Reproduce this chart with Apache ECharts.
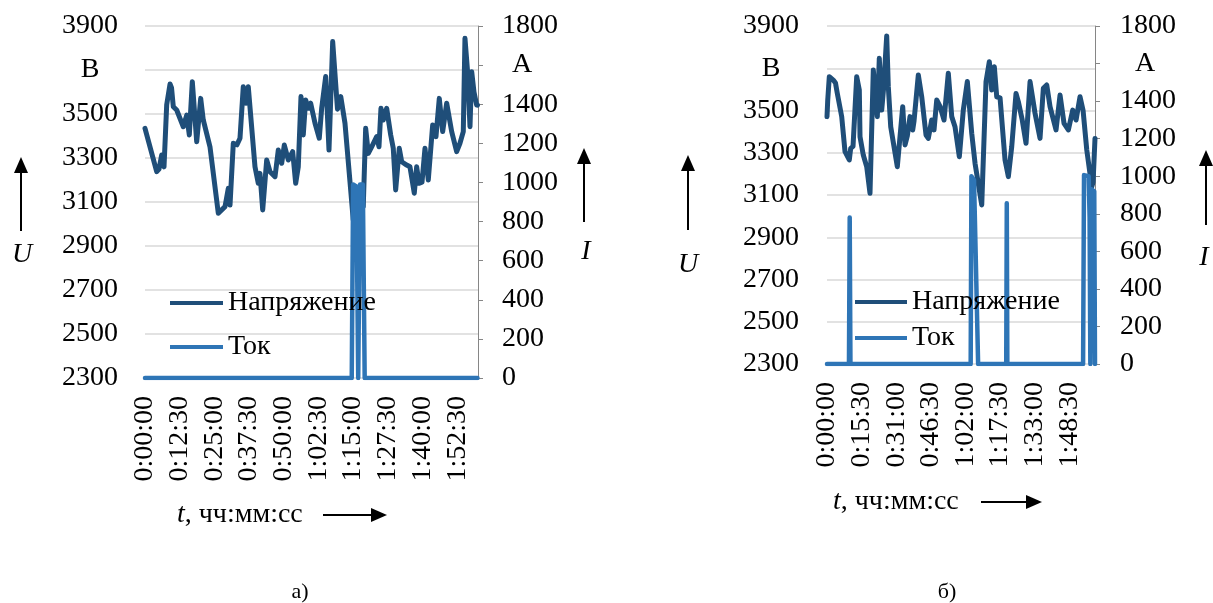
<!DOCTYPE html>
<html>
<head>
<meta charset="utf-8">
<script src="https://cdn.jsdelivr.net/npm/echarts@6/dist/echarts.min.js"></script>
<style>
html,body{margin:0;padding:0;background:#fff;}
#c{width:1213px;height:603px;}
</style>
</head>
<body>
<div id="c"></div>
<script>
// ---------- DATA (time in seconds from start) ----------
// Chart а)
const uT1 = [0,43,253,303,361,389,411,469,541,573,612,685,828,902,958,1023,1118,1204,1260,1405,1585,1730,1801,1838,1909,1989,2054,2125,2184,2233,2378,2449,2486,2545,2631,2703,2811,2882,2955,3012,3098,3193,3258,3314,3373,3422,3474,3531,3582,3676,3768,3820,3907,3978,4058,4162,4233,4324,4503,4719,4771,4828,4901,5009,5059,5102,5152,5226,5312,5368,5420,5498,5550,5658,5729,5822,5874,5924,5989,6054,6125,6220,6291,6363,6436,6523,6631,6739,6810,6882,6918,6972,7027,7064,7113,7171,7189];
const uV1 = [3435,3440,3238,3250,3314,3270,3260,3541,3636,3620,3533,3518,3442,3495,3405,3647,3374,3571,3473,3351,3049,3079,3162,3086,3367,3360,3390,3624,3549,3624,3260,3185,3230,3064,3291,3238,3215,3336,3276,3359,3291,3329,3185,3260,3579,3405,3564,3526,3549,3458,3390,3526,3670,3336,3829,3522,3579,3458,3018,3079,3435,3321,3351,3397,3351,3526,3473,3526,3405,3344,3155,3344,3283,3268,3260,3140,3260,3185,3190,3344,3200,3450,3397,3571,3420,3549,3420,3329,3367,3420,3844,3700,3442,3692,3600,3541,3540];
const iT1 = [0,4470,4500,4570,4610,4650,4710,4750,7189];
const iV1 = [0,0,990,980,0,990,990,0,0];
// Chart б)
const uT2 = [0,20,62,169,228,277,395,484,599,637,699,798,868,887,975,1067,1155,1244,1352,1405,1470,1518,1604,1647,1712,1889,2034,2096,2158,2230,2303,2338,2453,2545,2660,2722,2813,2875,2948,3036,3144,3259,3351,3439,3555,3662,3770,3888,3977,4157,4272,4361,4425,4495,4560,4649,4783,4872,4963,5078,5140,5240,5347,5455,5589,5723,5812,5903,5992,6153,6261,6368,6484,6602,6691,6798,6880,6979,7113,7148,7200];
const uV2 = [3471,3550,3660,3644,3630,3581,3471,3305,3266,3321,3330,3660,3597,3376,3289,3234,3108,3692,3471,3747,3502,3600,3853,3613,3423,3234,3518,3337,3380,3471,3408,3450,3668,3565,3384,3368,3455,3408,3550,3520,3455,3676,3471,3423,3281,3502,3637,3392,3250,3053,3637,3731,3597,3707,3565,3560,3266,3187,3329,3581,3542,3460,3345,3637,3487,3368,3605,3621,3518,3408,3573,3439,3408,3502,3455,3565,3500,3313,3139,3160,3368];
const iT2 = [0,590,610,630,3860,3880,3950,4060,4815,4830,4845,6880,6905,7030,7055,7075,7110,7180,7200];
const iV2 = [0,0,780,0,0,1000,980,0,0,856,0,0,1006,1000,780,0,930,920,0];
// axis settings
const uTicks = {min:2300, max:3900, step:200};
const iTicks = {min:0, max:1800, step:200};
const tStep1 = 750, tStep2 = 930, tMax = 7200;
const names = ['Напряжение','Ток'];

// ---------- helpers ----------
const FONT = '"Liberation Serif","Times New Roman",serif';
const C_U = '#1F4E79', C_I = '#2E75B6', C_GRID = '#D9D9D9', C_AX = '#868686';
function pairs(t, v){ return t.map((x,i)=>[x, v[i]]); }
function hms(s){ const h=Math.floor(s/3600), m=Math.floor(s%3600/60), x=s%60;
  return h+':'+String(m).padStart(2,'0')+':'+String(x).padStart(2,'0'); }

function xAx(g, step){
  return {type:'value', gridIndex:g, min:0, max:tMax, interval:step,
    axisLine:{show:false}, axisTick:{show:false}, splitLine:{show:false},
    axisLabel:{rotate:90, margin:18, fontSize:28, fontFamily:FONT, color:'#000',
      showMaxLabel:false, formatter:v=> (v % step === 0 && v < tMax) ? hms(v) : ''}};
}
function yU(g, margin, w){
  return {type:'value', gridIndex:g, position:'left', min:uTicks.min, max:uTicks.max, interval:uTicks.step,
    axisLine:{show:false}, axisTick:{show:false},
    splitLine:{show:true, lineStyle:{color:C_GRID, width:1.5}},
    axisLabel:{margin:margin, fontSize:28, fontFamily:FONT, color:'#000',
      formatter:v=> v===3700 ? '{u|В}' : String(v),
      rich:{u:{width:w, align:'center', fontSize:28, fontFamily:FONT, color:'#000'}}}};
}
function yI(g, margin, w){
  return {type:'value', gridIndex:g, position:'right', min:iTicks.min, max:iTicks.max, interval:iTicks.step,
    axisLine:{show:true, lineStyle:{color:C_AX, width:1}},
    axisTick:{show:true, length:5, lineStyle:{color:C_AX}},
    splitLine:{show:false},
    axisLabel:{margin:margin, fontSize:28, fontFamily:FONT, color:'#000',
      formatter:v=> v===1600 ? '{a|А}' : String(v),
      rich:{a:{width:w, align:'center', fontSize:28, fontFamily:FONT, color:'#000'}}}};
}
function line(name, x, y, data, color, w, z){
  return {name:name, type:'line', xAxisIndex:x, yAxisIndex:y, data:data,
    showSymbol:false, symbol:'none', color:color, itemStyle:{color:color},
    lineStyle:{color:color, width:w, join:'round', cap:'round'}, z:z, animation:false};
}
function arrowV(x, yTop, yBot){
  return [
    {type:'line', shape:{x1:x, y1:yBot, x2:x, y2:yTop+12}, style:{stroke:'#000', lineWidth:2}},
    {type:'polygon', shape:{points:[[x,yTop],[x-7,yTop+16],[x+7,yTop+16]]}, style:{fill:'#000'}}
  ];
}
function arrowH(xL, xR, y){
  return [
    {type:'line', shape:{x1:xL, y1:y, x2:xR-12, y2:y}, style:{stroke:'#000', lineWidth:2}},
    {type:'polygon', shape:{points:[[xR,y],[xR-16,y-7],[xR-16,y+7]]}, style:{fill:'#000'}}
  ];
}
function txt(x, y, text, opts){
  return Object.assign({type:'text', x:x, y:y, style:Object.assign({text:text, fontSize:28, fontFamily:FONT,
    fill:'#000', align:'center', verticalAlign:'middle'}, opts||{})});
}
function legend(left, top, lh, iw){
  return {data:names, orient:'vertical', left:left, top:top, itemGap:0, icon:'rect',
    itemWidth:iw, itemHeight:4, selectedMode:false,
    textStyle:{fontSize:28, fontFamily:FONT, color:'#000', lineHeight:lh, height:lh}};
}

const chart = echarts.init(document.getElementById('c'), null, {renderer:'canvas'});
chart.setOption({
  animation:false,
  backgroundColor:'#fff',
  grid:[
    {left:145, top:26, width:333, height:352},
    {left:827, top:26, width:268, height:338}
  ],
  xAxis:[xAx(0, tStep1), xAx(1, tStep2)],
  yAxis:[yU(0, 27, 56), yI(0, 24, 40), yU(1, 28, 56), yI(1, 25, 50)],
  legend:[legend(165, 276, 44, 53), legend(850, 279, 36, 52)],
  series:[
    line(names[0], 0, 0, pairs(uT1, uV1), C_U, 5, 2),
    line(names[1], 0, 1, pairs(iT1, iV1), C_I, 4.5, 3),
    line(names[0], 1, 2, pairs(uT2, uV2), C_U, 5, 2),
    line(names[1], 1, 3, pairs(iT2, iV2), C_I, 4.5, 3)
  ],
  graphic:[
    ...arrowV(21, 157, 231), txt(22, 255, 'U', {fontStyle:'italic'}),
    ...arrowV(688, 155, 230), txt(688, 265, 'U', {fontStyle:'italic'}),
    ...arrowV(584, 148, 222), txt(586, 252, 'I', {fontStyle:'italic'}),
    ...arrowV(1206, 150, 225), txt(1204, 258, 'I', {fontStyle:'italic'}),
    txt(177, 515, '{i|t}, чч:мм:сс', {align:'left', rich:{i:{fontStyle:'italic', fontSize:28, fontFamily:FONT}}}),
    ...arrowH(323, 387, 515),
    txt(833, 502, '{i|t}, чч:мм:сс', {align:'left', rich:{i:{fontStyle:'italic', fontSize:28, fontFamily:FONT}}}),
    ...arrowH(981, 1042, 502),
    txt(300, 592, 'а)', {fontSize:22}),
    txt(947, 592, 'б)', {fontSize:22})
  ]
});
</script>
</body>
</html>
